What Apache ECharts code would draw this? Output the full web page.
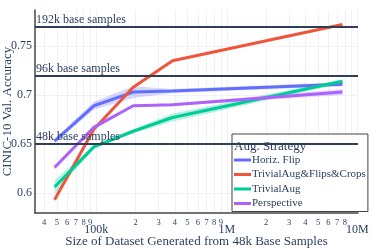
<!DOCTYPE html>
<html>
<head>
<meta charset="utf-8">
<script src="https://cdn.jsdelivr.net/npm/echarts@6/dist/echarts.min.js"></script>
<style>html,body{margin:0;padding:0;background:#fff}#c{width:373px;height:249px}</style>
</head>
<body>
<div id="c"></div>
<script>
// ---- data ----
const sizes = [48000, 96000, 192000, 384000, 7680000];
const seriesNames = ['Horiz. Flip', 'TrivialAug&Flips&Crops', 'TrivialAug', 'Perspective'];
const horizFlip = [0.653, 0.689, 0.703, 0.704, 0.711];
const trivialFlipsCrops = [0.593, 0.665, 0.708, 0.735, 0.772];
const trivialAug = [0.606, 0.647, 0.663, 0.677, 0.714];
const perspective = [0.626, 0.667, 0.689, 0.690, 0.703];
// half-widths of shaded bands
const horizFlipSpread = [0.002, 0.004, 0.006, 0.002, 0.002];
const trivialFlipsCropsSpread = [0.001, 0.001, 0.001, 0.001, 0.001];
const trivialAugSpread = [0.007, 0.002, 0.002, 0.004, 0.002];
const perspectiveSpread = [0.002, 0.002, 0.001, 0.001, 0.003];
const baseLineValues = [0.654, 0.7184, 0.7673];
const baseLineLabels = ['48k base samples', '96k base samples', '192k base samples'];
const xTickValues = [40000, 50000, 60000, 70000, 80000, 90000, 100000,
  200000, 300000, 400000, 500000, 600000, 700000, 800000, 900000, 1000000,
  2000000, 3000000, 4000000, 5000000, 6000000, 7000000, 8000000, 9000000, 10000000];
const majorTickLabels = {100000: '100k', 1000000: '1M', 10000000: '10M'};
const yTickValues = [0.6, 0.65, 0.7, 0.75];

const colors = ['#636efa', '#EF553B', '#00cc96', '#ab63fa'];
const bandColors = ['rgba(99,110,250,0.28)', 'rgba(239,85,59,0.2)', 'rgba(0,204,150,0.28)', 'rgba(171,99,250,0.28)'];
const values = [horizFlip, trivialFlipsCrops, trivialAug, perspective];
const spreads = [horizFlipSpread, trivialFlipsCropsSpread, trivialAugSpread, perspectiveSpread];
const FONT = 'Liberation Serif';
const TXT = '#2a3f5f';

const series = [];
// reference lines
series.push({
  type: 'line', data: [], z: 1, silent: true,
  markLine: {
    symbol: 'none', silent: true, animation: false,
    lineStyle: {color: '#2f3e55', width: 2, type: 'solid'},
    label: {position: 'insideStartTop', distance: [1, 1], color: TXT, fontFamily: FONT, fontSize: 12},
    data: baseLineValues.map((v, i) => ({yAxis: v, label: {formatter: baseLineLabels[i]}}))
  }
});
// bands (custom polygons through the axes' scales)
values.forEach((vals, i) => {
  const sp = spreads[i];
  series.push({
    type: 'custom', silent: true, z: 2, clip: true,
    data: [[sizes[0], vals[0]]],
    renderItem: function (params, api) {
      const upper = sizes.map((s, j) => api.coord([s, vals[j] + sp[j]]));
      const lower = sizes.map((s, j) => api.coord([s, vals[j] - sp[j]])).reverse();
      return {type: 'polygon', shape: {points: upper.concat(lower)},
        style: {fill: bandColors[i], stroke: null}};
    }
  });
});
// main lines
values.forEach((vals, i) => {
  series.push({
    type: 'line', name: seriesNames[i], data: vals.map((v, j) => [sizes[j], v]),
    symbol: 'none', lineStyle: {width: 3, color: colors[i]}, itemStyle: {color: colors[i]}, z: 3
  });
});

const chart = echarts.init(document.getElementById('c'), null, {renderer: 'canvas'});
chart.setOption({
  animation: false,
  grid: {left: 35, right: 15, top: 10, bottom: 36, outerBoundsMode: 'none', containLabel: false},
  xAxis: {
    type: 'log', logBase: 10, min: 34000, max: 10100000,
    name: 'Size of Dataset Generated from 48k Base Samples',
    nameLocation: 'middle', nameGap: 22, nameMoveOverlap: false,
    nameTextStyle: {fontFamily: FONT, fontSize: 13, color: TXT},
    axisLine: {show: true, lineStyle: {color: '#444', width: 1.5}},
    axisTick: {show: false, customValues: xTickValues},
    splitLine: {show: true, lineStyle: {color: '#eef1f6', width: 1}},
    axisLabel: {
      customValues: xTickValues, margin: 5, interval: 0, hideOverlap: false,
      showMinLabel: true, showMaxLabel: true,
      formatter: function (v) {
        if (majorTickLabels[v]) return '{M|' + majorTickLabels[v] + '}';
        return '{m|' + String(Math.round(v / Math.pow(10, Math.floor(Math.log10(v) + 1e-9)))) + '}';
      },
      rich: {
        m: {fontSize: 8.5, fontFamily: FONT, color: TXT},
        M: {fontSize: 12, fontFamily: FONT, color: TXT, padding: [6, 0, 0, 0]}
      }
    }
  },
  yAxis: {
    type: 'value', min: 0.5795, max: 0.7868,
    name: 'CINIC-10 Val. Accuracy', nameLocation: 'middle', nameGap: 21, nameMoveOverlap: false,
    nameTextStyle: {fontFamily: FONT, fontSize: 13, color: TXT},
    axisLine: {show: true, lineStyle: {color: '#444', width: 1.5}},
    axisTick: {show: false, customValues: yTickValues},
    splitLine: {show: true, lineStyle: {color: '#eef1f6', width: 1}},
    axisLabel: {customValues: yTickValues, margin: 3, fontFamily: FONT, fontSize: 12, color: TXT,
      formatter: v => String(+v.toFixed(2))}
  },
  legend: {
    data: seriesNames, orient: 'vertical', left: 232, top: 134,
    backgroundColor: '#fff', borderColor: '#444', borderWidth: 1,
    padding: [20, 2, 2, 2], itemGap: 2.5, itemWidth: 17, itemHeight: 3, icon: 'rect',
    textStyle: {fontFamily: FONT, fontSize: 11, color: TXT, padding: [0, 0, 0, -4], lineHeight: 12},
    width: 121
  },
  graphic: [{type: 'text', left: 234, top: 140, z: 100,
    style: {text: 'Aug. Strategy', fontFamily: FONT, fontSize: 13, fill: TXT}}],
  series: series
});
</script>
</body>
</html>
